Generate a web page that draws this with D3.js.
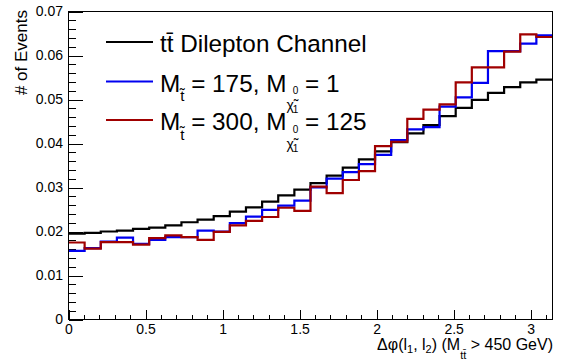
<!DOCTYPE html>
<html>
<head>
<meta charset="utf-8">
<script src="https://cdn.jsdelivr.net/npm/d3@7"></script>
<style>
    body { margin: 0; background: #ffffff; }
    text { font-family: "Liberation Sans", Arial, Helvetica, sans-serif; fill: #000; }
</style>
</head>
<body>
<div id="chart"></div>
<script>

// 30 bins over [0, pi]
const ttbar = [0.0195, 0.0197, 0.0200, 0.0202, 0.0206, 0.0209, 0.0214, 0.0221, 0.0227, 0.0235,
               0.0245, 0.0255, 0.0268, 0.0282, 0.0295, 0.0310, 0.0327, 0.0345, 0.0364, 0.0382,
               0.0403, 0.0423, 0.0442, 0.0462, 0.0481, 0.0499, 0.0515, 0.0528, 0.0539, 0.0545]
const stop175 = [0.0156, 0.0162, 0.0177, 0.0186, 0.0172, 0.0181, 0.0187, 0.0187, 0.0202, 0.0200,
                 0.0219, 0.0234, 0.0249, 0.0259, 0.0270, 0.0300, 0.0320, 0.0335, 0.0353, 0.0374,
                 0.0408, 0.0432, 0.0437, 0.0484, 0.0505, 0.0538, 0.0610, 0.0610, 0.0627, 0.0646]
const stop300 = [0.0175, 0.0161, 0.0176, 0.0176, 0.0170, 0.0185, 0.0191, 0.0187, 0.0181, 0.0199,
                 0.0214, 0.0224, 0.0233, 0.0254, 0.0247, 0.0302, 0.0287, 0.0317, 0.0337, 0.0394,
                 0.0404, 0.0456, 0.0477, 0.0489, 0.0539, 0.0573, 0.0573, 0.0609, 0.0648, 0.0642]

const xTicks = [0, 0.5, 1, 1.5, 2, 2.5, 3]
const xTickLabels = ["0", "0.5", "1", "1.5", "2", "2.5", "3"]
const yTicks = [0, 0.01, 0.02, 0.03, 0.04, 0.05, 0.06, 0.07]
const yTickLabels = ["0", "0.01", "0.02", "0.03", "0.04", "0.05", "0.06", "0.07"]

const seriesColors = ["#000000", "#0000f0", "#a00000"]

// legend text pieces: [text, font size, baseline shift, dx]
const legendEntries = [
    [["tt\u0304 Dilepton Channel", 24.3, 0, 0]],
    [["M", 24.3, 0, 0], ["t\u0303", 15, 9.5, 0], [" = 175, M", 24.3, 0, 0], ["\u03c7\u0303", 14, 18.5, 0],
     ["0", 10, 2.5, -1], ["1", 10, 21.5, -5.6], [" = 1", 24.3, 0, 0]],
    [["M", 24.3, 0, 0], ["t\u0303", 15, 9.5, 0], [" = 300, M", 24.3, 0, 0], ["\u03c7\u0303", 14, 18.5, 0],
     ["0", 10, 2.5, -1], ["1", 10, 21.5, -5.6], [" = 125", 24.3, 0, 0]]
]

const xTitle = [["\u0394\u03c6(l", 16, 0], ["1", 11, 3.5], [", l", 16, 0], ["2", 11, 3.5],
                [") (M", 16, 0], ["tt\u0304", 11, 9], [" > 450 GeV)", 16, 0]]
const yTitle = "# of Events"

let width = 568, height = 362
let frame = {left: 68.5, right: 552.5, top: 11.5, bottom: 319.5}

let svg = d3.select("#chart").append("svg")
    .attr("width", width)
    .attr("height", height)

svg.append("rect").attr("width", width).attr("height", height).attr("fill", "#fff")

let x = d3.scaleLinear().domain([0, Math.PI]).range([frame.left, frame.right])
let y = d3.scaleLinear().domain([0, 0.07]).range([frame.bottom, frame.top])

// minor ticks
let xMinor = d3.range(0, 3.15, 0.1)
let yMinor = d3.range(0, 0.0701, 0.002)

svg.append("g")
    .attr("transform", `translate(0,${frame.bottom})`)
    .call(d3.axisBottom(x).tickValues(xMinor).tickSize(-4.6).tickFormat(""))
    .call(g => g.select(".domain").remove())

svg.append("g")
    .attr("transform", `translate(${frame.left},0)`)
    .call(d3.axisLeft(y).tickValues(yMinor).tickSize(-7).tickFormat(""))
    .call(g => g.select(".domain").remove())

// major ticks + labels
svg.append("g")
    .attr("transform", `translate(0,${frame.bottom})`)
    .call(d3.axisBottom(x).tickValues(xTicks).tickSize(-9.2).tickPadding(4.5)
        .tickFormat((d, i) => xTickLabels[i]))
    .call(g => g.select(".domain").remove())
    .call(g => g.selectAll("text").attr("font-size", 14).attr("font-family", null))

svg.append("g")
    .attr("transform", `translate(${frame.left},0)`)
    .call(d3.axisLeft(y).tickValues(yTicks).tickSize(-14.5).tickPadding(5.5)
        .tickFormat((d, i) => yTickLabels[i]))
    .call(g => g.select(".domain").remove())
    .call(g => g.selectAll("text").attr("font-size", 14).attr("font-family", null))

svg.selectAll(".tick line").attr("stroke", "#000").attr("shape-rendering", "crispEdges")

// histograms
let edges = d3.range(ttbar.length + 1).map(i => i * Math.PI / ttbar.length)
let stepLine = d3.line()
    .x(d => x(d[0]))
    .y(d => y(d[1]))
    .curve(d3.curveStepAfter)

let allSeries = [ttbar, stop175, stop300]
allSeries.forEach((vals, k) => {
    let pts = vals.map((v, i) => [edges[i], v])
    pts.push([edges[vals.length], vals[vals.length - 1]])
    svg.append("path")
        .attr("d", stepLine(pts))
        .attr("fill", "none")
        .attr("stroke", seriesColors[k])
        .attr("stroke-width", 2.2)
})

// frame
svg.append("rect")
    .attr("x", frame.left).attr("y", frame.top)
    .attr("width", frame.right - frame.left)
    .attr("height", frame.bottom - frame.top)
    .attr("fill", "none")
    .attr("stroke", "#000")
    .attr("stroke-width", 1)

// legend
let legendY = [42, 81.5, 120]
let textBase = [51.5, 91.5, 130]
legendEntries.forEach((pieces, k) => {
    svg.append("line")
        .attr("x1", 106).attr("x2", 153)
        .attr("y1", legendY[k]).attr("y2", legendY[k])
        .attr("stroke", seriesColors[k])
        .attr("stroke-width", 2.2)

    let t = svg.append("text").attr("x", 160).attr("y", textBase[k])
    let prev = 0
    pieces.forEach(p => {
        t.append("tspan")
            .attr("font-size", p[1])
            .attr("dy", p[2] - prev)
            .attr("dx", p[3])
            .text(p[0])
        prev = p[2]
    })
})

// axis titles
let xt = svg.append("text")
    .attr("x", 553).attr("y", 349.5)
    .attr("text-anchor", "end")
let prevShift = 0
xTitle.forEach(p => {
    xt.append("tspan").attr("font-size", p[1]).attr("dy", p[2] - prevShift).text(p[0])
    prevShift = p[2]
})

svg.append("text")
    .attr("transform", "translate(26.5,10) rotate(-90)")
    .attr("text-anchor", "end")
    .attr("font-size", 17)
    .text(yTitle)

</script>
</body>
</html>
